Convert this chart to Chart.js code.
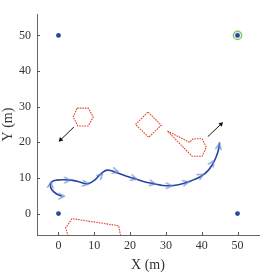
<!DOCTYPE html>
<html>
<head>
<meta charset="utf-8">
<script src="https://cdn.jsdelivr.net/npm/chart.js@4/dist/chart.umd.min.js"></script>
<style>
  html, body { margin: 0; padding: 0; background: #fff; }
  #wrap { width: 273px; height: 274px; }
</style>
</head>
<body>
<div id="wrap"><canvas id="myChart" width="273" height="274"></canvas></div>
<script>
// tick labels
const xTicks = [0, 10, 20, 30, 40, 50];
const yTicks = [0, 10, 20, 30, 40, 50];

// corner anchors and the goal
const anchorX = [0, 0, 50, 50];
const anchorY = [50, 0, 0, 50];
const goalX = [50];
const goalY = [50];

// obstacles (dotted red outlines)
const hexX = [5.2, 8.3, 9.7, 8.3, 5.4, 4.1, 5.2];
const hexY = [29.6, 29.6, 27.1, 24.6, 24.6, 27.1, 29.6];
const diamondX = [25.0, 28.7, 25.2, 21.5, 25.0];
const diamondY = [28.5, 24.8, 21.4, 25.0, 28.5];
const kiteX = [30.4, 36.6, 37.6, 40.1, 41.3, 40.1, 37.3, 30.4];
const kiteY = [23.2, 20.0, 21.0, 21.0, 18.6, 16.1, 16.1, 23.2];
const wallX = [2.9, 2.0, 3.8, 16.8, 17.5];
const wallY = [-7.0, -4.0, -1.4, -3.4, -7.0];

// movement arrows (start, end)
const arrowLeftX = [4.3, 0.6];
const arrowLeftY = [24.3, 20.7];
const arrowRightX = [41.7, 45.4];
const arrowRightY = [21.6, 25.1];

// trajectory
const pathX = [1.0, -0.5, -1.8, -2.3, -1.8, -0.5, 1.5, 3.5, 5.5, 7.5, 8.8, 10.0, 11.2, 12.5, 13.6, 14.8, 16.5, 19.0, 21.0, 23.5, 26.0, 28.5, 31.0, 33.5, 36.0, 38.0, 40.0, 41.7, 43.0, 44.0, 44.7, 45.0];
const pathY = [4.9, 5.5, 6.6, 8.0, 9.0, 9.4, 9.5, 9.4, 9.0, 8.4, 8.6, 9.3, 10.5, 11.7, 12.2, 12.0, 11.4, 10.5, 9.9, 9.1, 8.5, 8.0, 7.8, 8.1, 8.8, 9.6, 10.6, 12.0, 13.8, 15.8, 18.0, 20.0];

// heading markers along the trajectory (heading in degrees)
const markX = [0.8, -2.2, 2.4, 7.5, 11.7, 15.9, 21.0, 26.2, 30.8, 35.5, 39.7, 42.9, 44.8];
const markY = [4.9, 8.0, 9.4, 8.4, 10.6, 11.9, 9.9, 8.5, 7.8, 8.7, 10.6, 14.1, 18.8];
const markHeading = [0, 80, 0, -10, 45, -15, -18, -12, 0, 15, 30, 60, 80];

const serif = '"Liberation Serif", "DejaVu Serif", serif';
const red = '#e0442c';
const blue = '#2447a0';

function pts(xs, ys) {
    return xs.map((x, i) => ({ x: x, y: ys[i] }));
}

function heading(xs, ys) {
    return Math.atan2(ys[1] - ys[0], xs[1] - xs[0]) * 180 / Math.PI;
}

// open chevron used as the heading marker
const chevron = document.createElement('canvas');
chevron.width = 9;
chevron.height = 9;
const cc = chevron.getContext('2d');
cc.strokeStyle = '#6885d6';
cc.lineWidth = 1.1;
cc.beginPath();
cc.moveTo(1.5, 1.5);
cc.lineTo(7.5, 4.5);
cc.lineTo(1.5, 7.5);
cc.stroke();

function obstacle(xs, ys) {
    return {
        data: pts(xs, ys),
        showLine: true,
        borderColor: red,
        borderWidth: 1.1,
        borderDash: [1.6, 1],
        pointRadius: 0,
        order: 5
    };
}

function arrow(xs, ys) {
    const h = heading(xs, ys);
    return [{
        data: pts(xs, ys),
        showLine: true,
        borderColor: '#111',
        borderWidth: 1,
        pointRadius: 0,
        order: 4
    }, {
        data: [{ x: xs[1], y: ys[1] }],
        pointStyle: 'triangle',
        pointRadius: 2.8,
        rotation: 90 - h,
        backgroundColor: '#111',
        borderColor: '#111',
        borderWidth: 0,
        order: 4
    }];
}

// inward tick marks on the two axes
const innerTicks = {
    id: 'innerTicks',
    afterDatasetsDraw(chart) {
        const { ctx, chartArea, scales } = chart;
        ctx.save();
        ctx.strokeStyle = '#555';
        ctx.lineWidth = 1;
        xTicks.forEach(v => {
            const px = Math.round(scales.x.getPixelForValue(v)) + 0.5;
            ctx.beginPath();
            ctx.moveTo(px, chartArea.bottom);
            ctx.lineTo(px, chartArea.bottom - 3);
            ctx.stroke();
        });
        yTicks.forEach(v => {
            const py = Math.round(scales.y.getPixelForValue(v)) + 0.5;
            ctx.beginPath();
            ctx.moveTo(chartArea.left, py);
            ctx.lineTo(chartArea.left + 3, py);
            ctx.stroke();
        });
        ctx.restore();
    }
};

const datasets = [
    {
        data: pts(markX, markY),
        pointStyle: chevron,
        rotation: ctx => -markHeading[ctx.dataIndex],
        order: 0
    },
    {
        data: pts(pathX, pathY),
        showLine: true,
        borderColor: blue,
        borderWidth: 1.6,
        tension: 0.4,
        pointRadius: 0,
        order: 1
    },
    {
        data: pts(anchorX, anchorY),
        pointStyle: 'circle',
        pointRadius: 2.4,
        backgroundColor: blue,
        borderWidth: 0,
        order: 2
    },
    {
        data: pts(goalX, goalY),
        pointStyle: 'circle',
        pointRadius: 4.2,
        backgroundColor: '#eef6e6',
        borderColor: '#86c46c',
        borderWidth: 1.4,
        order: 3
    },
    ...arrow(arrowLeftX, arrowLeftY),
    ...arrow(arrowRightX, arrowRightY),
    obstacle(hexX, hexY),
    obstacle(diamondX, diamondY),
    obstacle(kiteX, kiteY),
    obstacle(wallX, wallY)
];

new Chart(document.getElementById('myChart'), {
    type: 'scatter',
    data: { datasets: datasets },
    options: {
        responsive: false,
        animation: false,
        events: [],
        layout: { padding: { top: 14, right: 14, left: 0, bottom: 0 } },
        plugins: { legend: { display: false }, tooltip: { enabled: false } },
        scales: {
            x: {
                min: -6,
                max: 56,
                afterBuildTicks: s => { s.ticks = xTicks.map(v => ({ value: v })); },
                afterFit: s => { s.height = 39; },
                grid: { display: false, drawTicks: false },
                border: { display: true, color: '#666', width: 1 },
                ticks: { color: '#333', padding: 4, font: { family: serif, size: 12 } },
                title: {
                    display: true,
                    text: 'X (m)',
                    color: '#333',
                    padding: { top: 0, bottom: 0 },
                    font: { family: serif, size: 14 }
                }
            },
            y: {
                min: -6,
                max: 56,
                afterBuildTicks: s => { s.ticks = yTicks.map(v => ({ value: v })); },
                afterFit: s => { s.width = 37; },
                grid: { display: false, drawTicks: false },
                border: { display: true, color: '#666', width: 1 },
                ticks: { color: '#333', padding: 6, font: { family: serif, size: 12 } },
                title: {
                    display: true,
                    text: 'Y (m)',
                    color: '#333',
                    padding: { top: 0, bottom: 2 },
                    font: { family: serif, size: 14 }
                }
            }
        }
    },
    plugins: [innerTicks]
});
</script>
</body>
</html>
